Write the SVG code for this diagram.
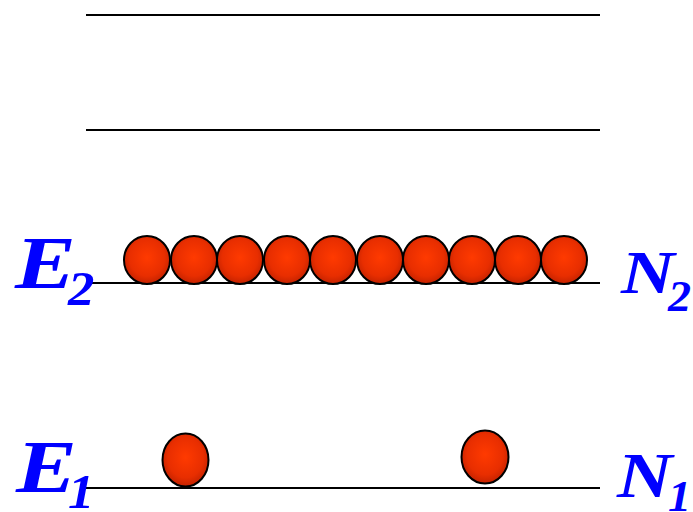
<svg xmlns="http://www.w3.org/2000/svg" width="693" height="512" viewBox="0 0 693 512">
<style>
.lvl{stroke:#000;stroke-width:2;fill:none}
.lab{font-family:"Liberation Serif","Times New Roman",serif;font-weight:bold;font-style:italic;fill:#0000FF}
.atom{fill:url(#g);stroke:#000;stroke-width:2}
</style>
<defs>
<radialGradient id="g" cx="0.5" cy="0.45" r="0.55">
<stop offset="0" stop-color="#FF3A00"/>
<stop offset="0.7" stop-color="#E82E00"/>
<stop offset="1" stop-color="#C42200"/>
</radialGradient>
<ellipse id="a2" rx="23" ry="24" class="atom"/>
</defs>
<g id="levels">
<line class="lvl" x1="86" y1="15" x2="600" y2="15"/>
<line class="lvl" x1="86" y1="130" x2="600" y2="130"/>
<line class="lvl" x1="92" y1="283" x2="600" y2="283"/>
<line class="lvl" x1="86" y1="488" x2="600" y2="488"/>
</g>
<g id="labelE2">
<text class="lab" font-size="73" transform="translate(15,288) scale(1.25,1)">E</text>
<text class="lab" font-size="48" transform="translate(68,305) scale(1.1,1)">2</text>
</g>
<g id="labelE1">
<text class="lab" font-size="73" transform="translate(16,492) scale(1.25,1)">E</text>
<text class="lab" font-size="48" transform="translate(68,508) scale(1.1,1)">1</text>
</g>
<g id="labelN2">
<text class="lab" font-size="62" transform="translate(621,293) scale(1.2,1)">N</text>
<text class="lab" font-size="44" transform="translate(668,311) scale(1.05,1)">2</text>
</g>
<g id="labelN1">
<text class="lab" font-size="64" transform="translate(617,497) scale(1.2,1)">N</text>
<text class="lab" font-size="44" transform="translate(668,511) scale(1.05,1)">1</text>
</g>
<g id="atomsE2">
<use href="#a2" x="147" y="260"/>
<use href="#a2" x="194" y="260"/>
<use href="#a2" x="240" y="260"/>
<use href="#a2" x="287" y="260"/>
<use href="#a2" x="333" y="260"/>
<use href="#a2" x="380" y="260"/>
<use href="#a2" x="426" y="260"/>
<use href="#a2" x="472" y="260"/>
<use href="#a2" x="518" y="260"/>
<use href="#a2" x="564" y="260"/>
</g>
<g id="atomsE1">
<ellipse class="atom" cx="185.5" cy="460" rx="23" ry="26.5"/>
<ellipse class="atom" cx="485" cy="457" rx="23.5" ry="26.5"/>
</g>
</svg>
